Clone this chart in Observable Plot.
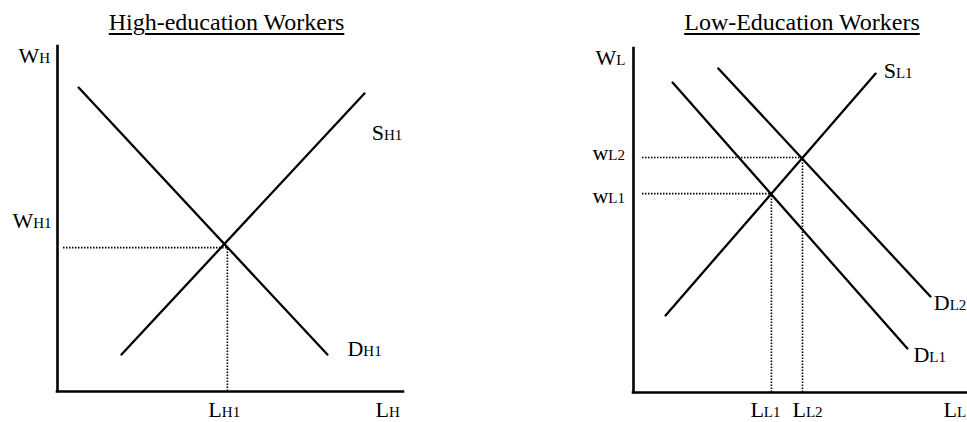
<!DOCTYPE html>
<html><head><meta charset="utf-8">
<script src="https://cdn.jsdelivr.net/npm/d3@7"></script>
<script src="https://cdn.jsdelivr.net/npm/@observablehq/plot@0.6"></script>
<style>
html,body{margin:0;padding:0;background:#fff;}
#chart{position:relative;width:967px;height:422px;overflow:hidden;font-family:"Liberation Serif","Times New Roman",serif;}
.title{position:absolute;top:10px;font-family:"Liberation Serif",serif;font-size:24px;line-height:24px;text-align:center;text-decoration:underline;text-decoration-thickness:1.5px;text-underline-offset:3px;color:#000;white-space:nowrap;}
.panel{position:absolute;top:0;}
</style></head><body>
<div id="chart"></div>
<script>
// Titles
const panelTitles = ["High-education Workers", "Low-Education Workers"];

// High-education market (axis units 0–100)
const highDemand = [[6.1, 88.1], [78.0, 10.7]];
const highSupply = [[18.5, 10.7], [88.7, 86.4]];
const highWages = [41.7];
const highEmployment = [49.1];
const highLabels = [
  {main: "W", sub: "H",  x: -11.3, y: 95.1},
  {main: "W", sub: "H1", x: -13.0, y: 47.5},
  {main: "S", sub: "H1", x: 90.8,  y: 72.8},
  {main: "D", sub: "H1", x: 83.8,  y: 10.4},
  {main: "L", sub: "H1", x: 43.6,  y: -7.4},
  {main: "L", sub: "H",  x: 91.9,  y: -7.4}
];

// Low-education market (axis units 0–100)
const lowDemand1 = [[11.7, 90.1], [82.0, 12.8]];
const lowDemand2 = [[25.4, 94.2], [88.9, 27.9]];
const lowSupply = [[9.6, 22.4], [72.5, 92.7]];
const lowWages = [57.8, 68.3];
const lowEmployment = [41.3, 50.6];
const lowLabels = [
  {main: "W", sub: "L",  x: -11.4, y: 95.1},
  {main: "w", sub: "L2", x: -12.3, y: 67.7},
  {main: "w", sub: "L1", x: -12.3, y: 55.2},
  {main: "S", sub: "L1", x: 74.9,  y: 91.3},
  {main: "D", sub: "L2", x: 89.9,  y: 24.1},
  {main: "D", sub: "L1", x: 83.8,  y: 9.0},
  {main: "L", sub: "L1", x: 35.0,  y: -7.0},
  {main: "L", sub: "L2", x: 47.6,  y: -7.0},
  {main: "L", sub: "L",  x: 92.8,  y: -7.0}
];

const MAIN_SIZE = 22, SUB_SIZE = 15;

function panel({curves, wages, employment, labels, width, margins, dotInset}) {
  const eq = wages.map((w, i) => ({w, l: employment[i]}));
  const marks = [
    Plot.ruleX([0], {y1: 0, y2: 100, stroke: "black", strokeWidth: 2.6, strokeLinecap: "square"}),
    Plot.ruleY([0], {x1: 0, x2: 100, stroke: "black", strokeWidth: 2.6, strokeLinecap: "square"}),
    Plot.ruleY(eq, {y: "w", x1: 0, x2: "l", insetLeft: dotInset, stroke: "black", strokeWidth: 1.6, strokeDasharray: "1.5,1.5"}),
    Plot.ruleX(eq, {x: "l", y1: 0, y2: "w", stroke: "black", strokeWidth: 1.6, strokeDasharray: "1.5,1.5"}),
    ...curves.map(c => Plot.line(c, {x: d => d[0], y: d => d[1], stroke: "black", strokeWidth: 2.3})),
    Plot.text(labels, {x: "x", y: "y", text: "main", textAnchor: "start", lineAnchor: "bottom", fontSize: MAIN_SIZE, fill: "black"})
  ];
  const svg = Plot.plot({
    width, height: 422,
    ...margins,
    x: {domain: [0, 100], axis: null},
    y: {domain: [0, 100], axis: null},
    style: {fontFamily: '"Liberation Serif","Times New Roman",serif', background: "transparent", overflow: "visible"},
    marks
  });
  d3.select(svg).selectAll('g[aria-label="text"] text').each(function(d, i) {
    d3.select(this).append("tspan").attr("font-size", SUB_SIZE).text(labels[i].sub);
  });
  return svg;
}

const chart = document.getElementById("chart");

const left = panel({
  curves: [highDemand, highSupply], wages: highWages, employment: highEmployment, labels: highLabels,
  width: 480, margins: {marginLeft: 57, marginRight: 77, marginTop: 46, marginBottom: 31}, dotInset: 6
});
left.classList.add("panel"); left.style.left = "0px";
chart.appendChild(left);

const right = panel({
  curves: [lowDemand1, lowDemand2, lowSupply], wages: lowWages, employment: lowEmployment, labels: lowLabels,
  width: 487, margins: {marginLeft: 153, marginRight: 0, marginTop: 48, marginBottom: 30}, dotInset: 9
});
right.classList.add("panel"); right.style.left = "480px";
chart.appendChild(right);

const t1 = document.createElement("div");
t1.className = "title"; t1.style.left = "0px"; t1.style.width = "453px"; t1.textContent = panelTitles[0];
chart.appendChild(t1);
const t2 = document.createElement("div");
t2.className = "title"; t2.style.left = "637px"; t2.style.width = "330px"; t2.textContent = panelTitles[1];
chart.appendChild(t2);
</script>
</body></html>
